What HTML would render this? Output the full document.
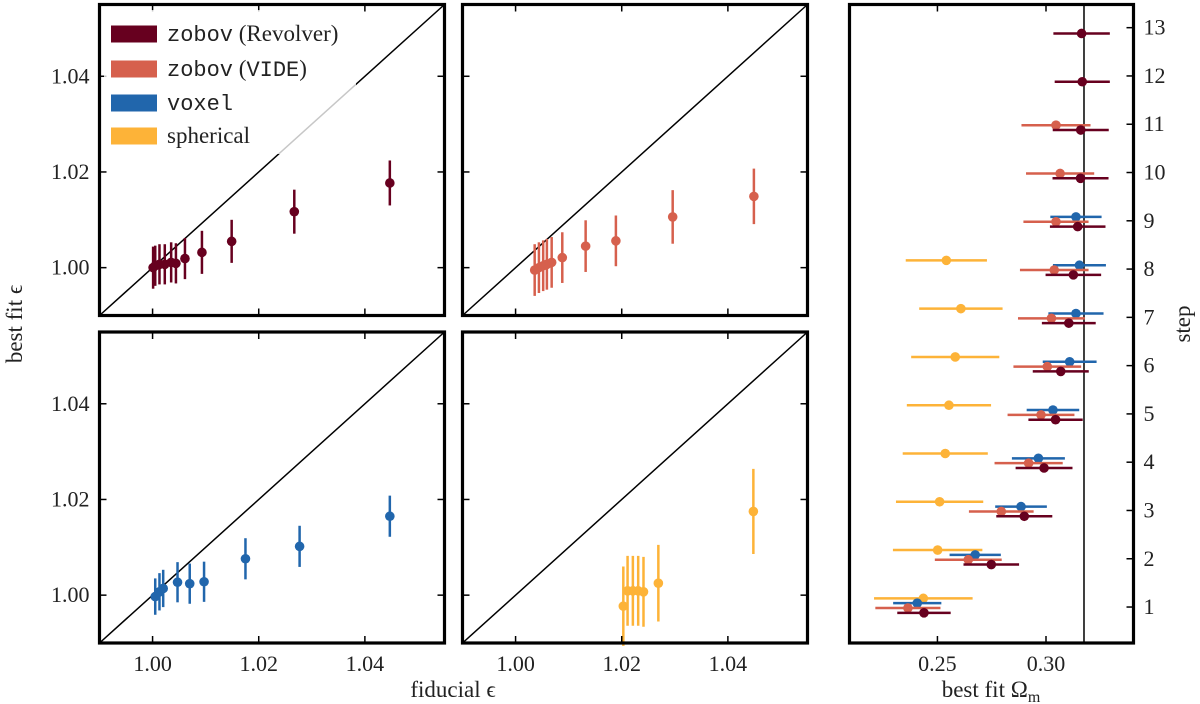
<!DOCTYPE html>
<html><head><meta charset="utf-8">
<style>
html,body{margin:0;padding:0;background:#fff;}
svg{display:block;font-family:"Liberation Serif","DejaVu Serif",serif;}
.tl{font-size:22px;fill:#222;}
.al{font-size:23px;fill:#222;}
.mono{font-family:"Liberation Mono","DejaVu Sans Mono",monospace;}
</style></head>
<body>
<svg id="chart" width="1200" height="704" viewBox="0 0 1200 704" xmlns="http://www.w3.org/2000/svg"></svg>
<script>
// ---- data: epsilon panels ----
const revFid = [1.0001,1.0005,1.0013,1.0023,1.0035,1.0044,1.0061,1.0093,1.0149,1.0267,1.0447];
const revFit = [1.0000,1.0004,1.0007,1.0007,1.0011,1.0009,1.0019,1.0032,1.0055,1.0117,1.0177];
const revErr = [0.0044,0.0042,0.0042,0.0042,0.0042,0.0042,0.0043,0.0045,0.0045,0.0046,0.0047];
const videFid = [1.0036,1.0044,1.0052,1.0059,1.0068,1.0088,1.0132,1.0189,1.0296,1.0449];
const videFit = [0.9995,1.0000,1.0004,1.0007,1.0011,1.0021,1.0045,1.0056,1.0106,1.0149];
const videErr = [0.0054,0.0053,0.0053,0.0053,0.0053,0.0053,0.0054,0.0053,0.0056,0.0058];
const voxFid = [1.0005,1.0013,1.0020,1.0047,1.0070,1.0097,1.0175,1.0277,1.0447];
const voxFit = [0.9997,1.0007,1.0014,1.0027,1.0024,1.0028,1.0076,1.0102,1.0165];
const voxErr = [0.0038,0.0039,0.0039,0.0042,0.0042,0.0042,0.0043,0.0043,0.0043];
const sphFid = [1.0203,1.0211,1.0221,1.0231,1.0241,1.0269,1.0448];
const sphFit = [0.9977,1.0009,1.0009,1.0009,1.0007,1.0025,1.0175];
const sphErr = [0.0083,0.0073,0.0073,0.0073,0.0073,0.0080,0.0089];
const epsTicks = [1.00,1.02,1.04];
const epsTickLabels = ["1.00","1.02","1.04"];
// ---- data: Omega_m panel ----
const revSteps = [1,2,3,4,5,6,7,8,9,10,11,12,13];
const revOm = [0.2438,0.2748,0.2900,0.2991,0.3044,0.3068,0.3105,0.3126,0.3146,0.3159,0.3160,0.3167,0.3164];
const revOmErr = [0.0123,0.0128,0.0129,0.0131,0.0125,0.0129,0.0124,0.0128,0.0128,0.0129,0.0129,0.0127,0.0130];
const videSteps = [1,2,3,4,5,6,7,8,9,10,11];
const videOm = [0.2364,0.2642,0.2794,0.2920,0.2977,0.3006,0.3025,0.3038,0.3046,0.3065,0.3046];
const videOmErr = [0.0150,0.0154,0.0149,0.0157,0.0154,0.0156,0.0154,0.0158,0.0150,0.0157,0.0159];
const voxSteps = [1,2,3,4,5,6,7,8,9];
const voxOm = [0.2407,0.2674,0.2885,0.2965,0.3032,0.3109,0.3138,0.3154,0.3138];
const voxOmErr = [0.0111,0.0118,0.0119,0.0122,0.0121,0.0124,0.0127,0.0122,0.0118];
const sphSteps = [1,2,3,4,5,6,7,8];
const sphOm = [0.2435,0.2501,0.2510,0.2536,0.2553,0.2582,0.2608,0.2541];
const sphOmErr = [0.0227,0.0206,0.0201,0.0196,0.0194,0.0203,0.0192,0.0187];
const stepOffsets = [-0.12,-0.02,0.08,0.18]; // rev, vide, voxel, spherical
const omTicks = [0.25,0.30];
const omTickLabels = ["0.25","0.30"];
const stepTicks = [1,2,3,4,5,6,7,8,9,10,11,12,13];
const omFiducial = 0.3175;

const C = {rev:"#67001f", vide:"#d6604d", vox:"#2166ac", sph:"#fdb338"};
const NS = "http://www.w3.org/2000/svg";
const svg = document.getElementById('chart');
function mk(tag, attrs, parent){
  const e = document.createElementNS(NS, tag);
  for (const k in attrs) e.setAttribute(k, attrs[k]);
  (parent||svg).appendChild(e);
  return e;
}
const EPS_MIN = 0.99, EPS_MAX = 1.055;

function epsPanel(name, x0, x1, y0, y1, fid, fit, err, color, showX, showY){
  const g = mk('g', {});
  
  
  const sx = v => x0 + (v - EPS_MIN) / (EPS_MAX - EPS_MIN) * (x1 - x0);
  const sy = v => y1 - (v - EPS_MIN) / (EPS_MAX - EPS_MIN) * (y1 - y0);
  const diag = mk('line', {x1:sx(EPS_MIN), y1:sy(EPS_MIN), x2:sx(EPS_MAX), y2:sy(EPS_MAX), stroke:'#000', 'stroke-width':1.5}, g);
  
  
  for (let i = 0; i < fid.length; i++){
    const eb = mk('line', {x1:sx(fid[i]), x2:sx(fid[i]), y1:sy(fit[i]-err[i]), y2:sy(fit[i]+err[i]), stroke:color, 'stroke-width':2.5}, g);
    
    
  }
  for (let i = 0; i < fid.length; i++){
    const p = mk('circle', {cx:sx(fid[i]), cy:sy(fit[i]), r:4.8, fill:color}, g);
    
    
  }
  epsTicks.forEach((t, i) => {
    const X = sx(t), Y = sy(t);
    mk('line', {x1:X, x2:X, y1:y1, y2:y1-7, stroke:'#000', 'stroke-width':1.5}, g);
    mk('line', {x1:X, x2:X, y1:y0, y2:y0+7, stroke:'#000', 'stroke-width':1.5}, g);
    mk('line', {x1:x0, x2:x0+7, y1:Y, y2:Y, stroke:'#000', 'stroke-width':1.5}, g);
    mk('line', {x1:x1, x2:x1-7, y1:Y, y2:Y, stroke:'#000', 'stroke-width':1.5}, g);
    if (showX){
      const tx = mk('text', {x:X, y:y1+28, 'text-anchor':'middle', class:'tl'}, g);
      tx.textContent = epsTickLabels[i];
      
      
    }
    if (showY){
      const ty = mk('text', {x:x0-10, y:Y+7, 'text-anchor':'end', class:'tl'}, g);
      ty.textContent = epsTickLabels[i];
      
      
    }
  });
  const fr = mk('rect', {x:x0, y:y0, width:x1-x0, height:y1-y0, fill:'none', stroke:'#000', 'stroke-width':3.2}, g);
  
  
  return g;
}

epsPanel('panel-zobov-revolver', 99.5, 444.5, 4.5, 315.5, revFid, revFit, revErr, C.rev, false, true);
epsPanel('panel-zobov-vide', 462.5, 807.5, 4.5, 315.5, videFid, videFit, videErr, C.vide, false, false);
epsPanel('panel-voxel', 99.5, 444.5, 332, 643, voxFid, voxFit, voxErr, C.vox, true, true);
epsPanel('panel-spherical', 462.5, 807.5, 332, 643, sphFid, sphFit, sphErr, C.sph, true, false);

// ---- legend ----
const lg = mk('g', {});


mk('rect', {x:104, y:10, width:252, height:144, fill:'#fff', 'fill-opacity':0.78}, lg);
const legItems = [
  {c:C.rev, mono:'zobov', rest:' (Revolver)', y:34},
  {c:C.vide, mono:'zobov', rest:' (', mono2:'VIDE', rest2:')', y:69},
  {c:C.vox, mono:'voxel', rest:'', y:103},
  {c:C.sph, mono:'', rest:'spherical', y:136}
];
legItems.forEach(it => {
  const e = mk('g', {}, lg);
  
  
  mk('rect', {x:111, y:it.y-8.5, width:46, height:17, fill:it.c}, e);
  const t = mk('text', {x:167, y:it.y+7, style:'font-size:23px;fill:#222'}, e);
  if (it.mono){ const s = mk('tspan', {class:'mono', style:'font-size:22px'}, t); s.textContent = it.mono; }
  if (it.rest){ const s = mk('tspan', {}, t); s.textContent = it.rest; }
  if (it.mono2){ const s = mk('tspan', {class:'mono', style:'font-size:22px'}, t); s.textContent = it.mono2; }
  if (it.rest2){ const s = mk('tspan', {}, t); s.textContent = it.rest2; }
});

// ---- right panel ----
(function(){
  const x0 = 849.5, x1 = 1133.5, y0 = 4.5, y1 = 643;
  const OM_MIN = 0.2095, OM_MAX = 0.3403, ST_MIN = 0.255, ST_MAX = 13.48;
  const sx = v => x0 + (v - OM_MIN) / (OM_MAX - OM_MIN) * (x1 - x0);
  const sy = v => y1 - (v - ST_MIN) / (ST_MAX - ST_MIN) * (y1 - y0);
  const g = mk('g', {});
  
  
  const vl = mk('line', {x1:sx(omFiducial), x2:sx(omFiducial), y1:y0, y2:y1, stroke:'#000', 'stroke-width':1.5}, g);
  
  
  const series = [
    {s:revSteps, v:revOm, e:revOmErr, c:C.rev, o:stepOffsets[0], n:'revolver'},
    {s:videSteps, v:videOm, e:videOmErr, c:C.vide, o:stepOffsets[1], n:'vide'},
    {s:voxSteps, v:voxOm, e:voxOmErr, c:C.vox, o:stepOffsets[2], n:'voxel'},
    {s:sphSteps, v:sphOm, e:sphOmErr, c:C.sph, o:stepOffsets[3], n:'spherical'}
  ];
  series.slice().reverse().forEach(S => {
    for (let i = 0; i < S.s.length; i++){
      const Y = sy(S.s[i] + S.o);
      const eb = mk('line', {x1:sx(S.v[i]-S.e[i]), x2:sx(S.v[i]+S.e[i]), y1:Y, y2:Y, stroke:S.c, 'stroke-width':2.5}, g);
      
      
      const p = mk('circle', {cx:sx(S.v[i]), cy:Y, r:4.8, fill:S.c}, g);
      
      
    }
  });
  omTicks.forEach((t, i) => {
    const X = sx(t);
    mk('line', {x1:X, x2:X, y1:y1, y2:y1-7, stroke:'#000', 'stroke-width':1.5}, g);
    mk('line', {x1:X, x2:X, y1:y0, y2:y0+7, stroke:'#000', 'stroke-width':1.5}, g);
    const tx = mk('text', {x:X, y:y1+28, 'text-anchor':'middle', class:'tl'}, g);
    tx.textContent = omTickLabels[i];
    
    
  });
  stepTicks.forEach(t => {
    const Y = sy(t);
    mk('line', {x1:x1, x2:x1-7, y1:Y, y2:Y, stroke:'#000', 'stroke-width':1.5}, g);
    const ty = mk('text', {x:x1+10, y:Y+7, 'text-anchor':'start', class:'tl'}, g);
    ty.textContent = String(t);
    
    
  });
  const fr = mk('rect', {x:x0, y:y0, width:x1-x0, height:y1-y0, fill:'none', stroke:'#000', 'stroke-width':3.2}, g);
  
  
})();

// ---- axis titles ----
let t;
t = mk('text', {x:453, y:697, 'text-anchor':'middle', class:'al'});
t.textContent = 'fiducial ϵ';


t = mk('text', {x:991, y:697, 'text-anchor':'middle', class:'al'});
t.innerHTML = 'best fit Ω<tspan dy="5" style="font-size:16px">m</tspan>';


t = mk('text', {x:0, y:0, 'text-anchor':'middle', class:'al', transform:'translate(22,324) rotate(-90)'});
t.textContent = 'best fit ϵ';


t = mk('text', {x:0, y:0, 'text-anchor':'middle', class:'al', transform:'translate(1190,324) rotate(-90)'});
t.textContent = 'step';


</script>
</body></html>
